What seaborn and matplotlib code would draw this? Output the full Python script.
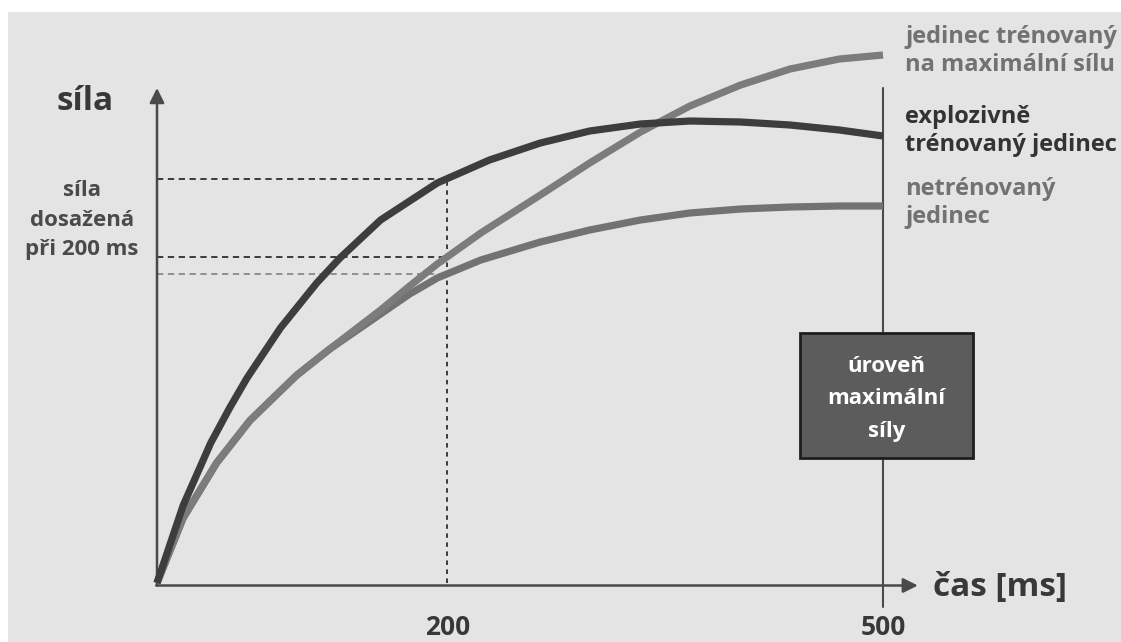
import numpy as np
import pandas as pd
import seaborn as sns
from matplotlib import pyplot as plt
from matplotlib.patches import Rectangle

# time [ms] and force (arbitrary units)
t_explosive = [0, 18, 37, 50, 62, 85, 110, 126, 154, 193, 229, 264, 298, 333, 367, 402, 436, 470, 500]
f_explosive = [0, 15.5, 28.0, 35.0, 41.0, 51.0, 60.0, 65.0, 72.6, 80.0, 84.6, 88.0, 90.4, 91.8, 92.4, 92.2, 91.6, 90.6, 89.4]

t_maxtrained = [0, 18, 41, 64, 96, 119, 154, 174, 193, 223, 264, 298, 333, 367, 402, 436, 470, 500]
f_maxtrained = [0, 13.0, 24.0, 32.5, 41.5, 46.8, 54.6, 59.4, 63.8, 70.0, 77.6, 84.0, 90.2, 95.4, 99.6, 102.8, 104.8, 105.6]

t_untrained = [0, 18, 41, 64, 96, 119, 154, 174, 193, 223, 264, 298, 333, 367, 402, 436, 470, 500]
f_untrained = [0, 13.0, 24.0, 32.5, 41.5, 46.8, 53.8, 57.8, 61.0, 64.6, 68.2, 70.6, 72.6, 74.0, 74.8, 75.2, 75.4, 75.4]

labels = ["explozivně\ntrénovaný jedinec", "jedinec trénovaný\nna maximální sílu", "netrénovaný\njedinec"]
t_mark = 200
t_end = 500
xtick_labels = ["200", "500"]

df = pd.concat([
    pd.DataFrame({"t": t_explosive, "F": f_explosive, "skupina": labels[0]}),
    pd.DataFrame({"t": t_maxtrained, "F": f_maxtrained, "skupina": labels[1]}),
    pd.DataFrame({"t": t_untrained, "F": f_untrained, "skupina": labels[2]}),
])

sns.set_theme(style="white")
plt.rcParams["font.family"] = ["Open Sans", "DejaVu Sans"]
plt.rcParams["font.weight"] = "bold"

fig = plt.figure(figsize=(11.21, 6.42), dpi=100, facecolor="white")
ax = fig.add_axes([0, 0, 1, 1])
ax.set_axis_off()
ax.set_xlim(-157 / 1.452, (1121 - 157) / 1.452)
ax.set_ylim(-59 / 5, 583 / 5)
# grey page behind the drawing, white strip at top and left
ax.add_patch(Rectangle((8 / 1121, 0), 1, 630 / 642, transform=fig.transFigure,
                       facecolor="#e4e4e4", edgecolor="none", zorder=0))

palette = {labels[0]: "#3d3d3d", labels[1]: "#7c7c7c", labels[2]: "#727272"}
# untrained first so the max-strength curve sits on top where they overlap
sns.lineplot(df, x="t", y="F", hue="skupina", palette=palette, hue_order=[labels[2], labels[1], labels[0]],
             lw=5.2, legend=False, ax=ax, zorder=4, solid_capstyle="butt", solid_joinstyle="round")

# axes with arrows
axis_col = "#4a4a4a"
ax.annotate("", xy=(0, 99), xytext=(0, -0.5),
            arrowprops=dict(arrowstyle="-|>", color=axis_col, lw=1.8, mutation_scale=22, shrinkA=0, shrinkB=0))
ax.annotate("", xy=(524, -0.5), xytext=(-0.5, -0.5),
            arrowprops=dict(arrowstyle="-|>", color=axis_col, lw=1.8, mutation_scale=22, shrinkA=0, shrinkB=0))
ax.plot([t_end, t_end], [-4.8, 99], color=axis_col, lw=1.5, zorder=3)

# dashed guides at 200 ms
f200 = [np.interp(t_mark, t_explosive, f_explosive),
        np.interp(t_mark, t_maxtrained, f_maxtrained),
        np.interp(t_mark, t_untrained, f_untrained)]
dash_cols = ["#2e2e2e", "#2e2e2e", "#8a8a8a"]
for f, c in zip(f200, dash_cols):
    ax.plot([0, t_mark], [f, f], color=c, lw=1.3, ls=(0, (3.5, 2.5)), zorder=2)
ax.plot([t_mark, t_mark], [0, f200[0]], color="#2e2e2e", lw=1.3, ls=(0, (2.5, 2.5)), zorder=2)

# box
ax.add_patch(Rectangle((442.8, 25), 119.1, 25, facecolor="#5c5c5c", edgecolor="#1e1e1e", lw=2, zorder=5))
ax.text(502.4, 36.8, "úroveň\nmaximální\nsíly", color="white", fontsize=16, fontweight="bold",
        ha="center", va="center", linespacing=1.75, zorder=6)

# texts
ax.text(-49.6, 96.2, "síla", fontsize=24, fontweight="bold", color="#383838", ha="center", va="center")
ax.text(-51.7, 72.6, "síla\ndosažená\npři 200 ms", fontsize=16, fontweight="bold", color="#4a4a4a",
        ha="center", va="center", linespacing=1.55)
ax.text(534.4, -1.0, "čas [ms]", fontsize=24, fontweight="bold", color="#383838", ha="left", va="center")
for t, s in zip([t_mark, t_end], xtick_labels):
    ax.text(t, -11.6, s, fontsize=19, fontweight="bold", color="#383838", ha="center", va="bottom")

label_y = [90.4, 106.4, 76.0]
label_cols = ["#333333", "#727272", "#727272"]
for s, y, c in zip(labels, label_y, label_cols):
    ax.text(515.2, y, s, fontsize=17, fontweight="bold", color=c, ha="left", va="center", linespacing=1.25)

fig.savefig("out.png", dpi=100)
